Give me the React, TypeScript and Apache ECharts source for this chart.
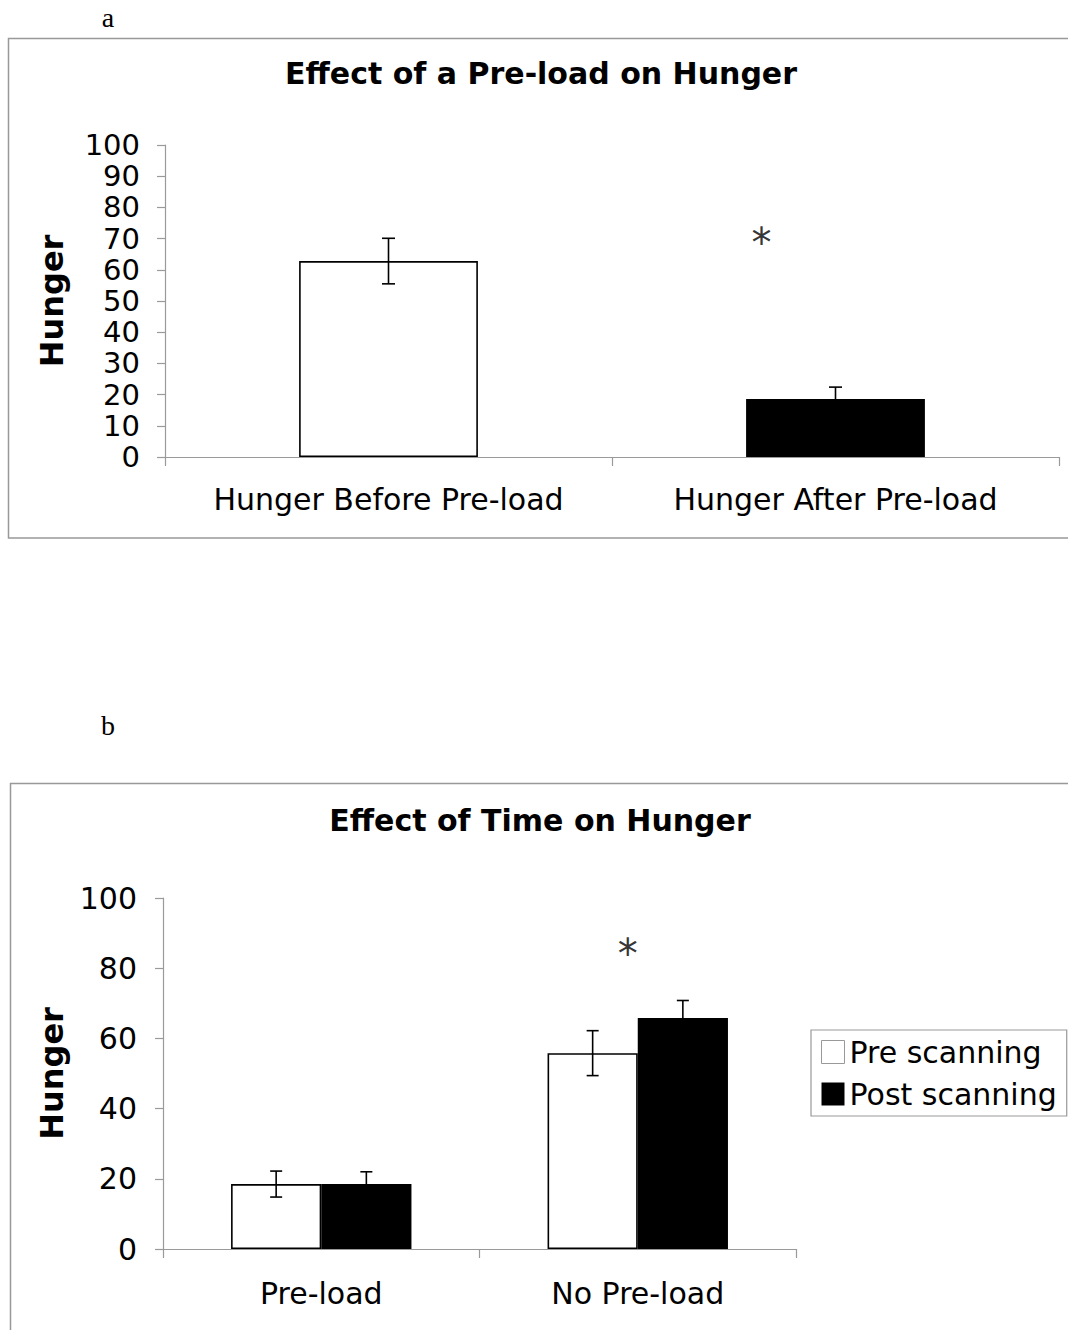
import React, { useEffect, useRef } from "react";
import * as echarts from "echarts";

// ---------- Panel a data ----------
const catsA = ["Hunger Before Pre-load", "Hunger After Pre-load"];
const valuesA = [62.8, 18.6];
const errorsA = [7.3, 3.8];
const fillA = ["#ffffff", "#000000"];
const ticksA = { min: 0, max: 100, interval: 10 };
const starA = [[1, 68.5]];

// ---------- Panel b data ----------
const catsB = ["Pre-load", "No Pre-load"];
const seriesNamesB = ["Pre scanning", "Post scanning"];
const preScan = [18.5, 55.8];
const preScanErr = [3.7, 6.4];
const postScan = [18.5, 65.8];
const postScanErr = [3.5, 5.0];
const ticksB = { min: 0, max: 100, interval: 20 };
const starB = [[1, 84]];

const FONT = "DejaVu Sans";
const AXIS_GREY = "#9a9a9a";

function errorBarSeries(
  xAxisIndex: number,
  yAxisIndex: number,
  values: number[],
  errs: number[],
  offsetFrac: number,
  cap: number
) {
  return {
    type: "custom",
    xAxisIndex,
    yAxisIndex,
    z: 10,
    silent: true,
    data: values.map((v, i) => [i, v, errs[i]]),
    renderItem: (params: any, api: any) => {
      const x = api.value(0);
      const y = api.value(1);
      const e = api.value(2);
      const bw = api.size([1, 0])[0];
      const hi = api.coord([x, y + e]);
      const lo = api.coord([x, y - e]);
      const cx = hi[0] + offsetFrac * bw;
      const style = { stroke: "#000", lineWidth: 1.6 };
      return {
        type: "group",
        children: [
          { type: "line", shape: { x1: cx, y1: hi[1], x2: cx, y2: lo[1] }, style },
          { type: "line", shape: { x1: cx - cap / 2, y1: hi[1], x2: cx + cap / 2, y2: hi[1] }, style },
          { type: "line", shape: { x1: cx - cap / 2, y1: lo[1], x2: cx + cap / 2, y2: lo[1] }, style },
        ],
      };
    },
  };
}

function yAxisCommon(
  t: { min: number; max: number; interval: number },
  gridIndex: number,
  margin: number,
  nameGap: number,
  fontSize: number,
  lineHeight: number
) {
  return {
    type: "value",
    gridIndex,
    min: t.min,
    max: t.max,
    interval: t.interval,
    name: "Hunger",
    nameLocation: "middle",
    nameGap,
    nameTextStyle: { fontFamily: FONT, fontWeight: "bold", fontSize: 32, color: "#000" },
    axisLine: { show: true, lineStyle: { color: AXIS_GREY, width: 1.2 } },
    axisTick: { show: true, length: 8, lineStyle: { color: AXIS_GREY, width: 1.2 } },
    splitLine: { show: false },
    axisLabel: { fontFamily: FONT, fontSize, lineHeight, color: "#000", margin },
  };
}

function xAxisCommon(cats: string[], gridIndex: number, margin: number) {
  return {
    type: "category",
    gridIndex,
    data: cats,
    axisLine: { show: true, lineStyle: { color: AXIS_GREY, width: 1.2 } },
    axisTick: { show: true, length: 9, alignWithLabel: false, lineStyle: { color: AXIS_GREY, width: 1.2 } },
    axisLabel: { fontFamily: FONT, fontSize: 30, color: "#000", margin, interval: 0 },
    splitLine: { show: false },
  };
}

export default function App() {
  const ref = useRef<HTMLDivElement>(null);
  useEffect(() => {
    if (!ref.current) return;
    const chart = echarts.init(ref.current, null, { renderer: "svg" });
    const option: any = {
      animation: false,
      backgroundColor: "#ffffff",
      textStyle: { fontFamily: FONT },
      title: [
        {
          text: "Effect of a Pre-load on Hunger",
          left: 541,
          top: 58,
          padding: 0,
          textAlign: "center",
          textStyle: { fontFamily: FONT, fontWeight: "bold", fontSize: 30, color: "#000" },
        },
        {
          text: "Effect of Time on Hunger",
          left: 540,
          top: 805,
          padding: 0,
          textAlign: "center",
          textStyle: { fontFamily: FONT, fontWeight: "bold", fontSize: 30, color: "#000" },
        },
      ],
      graphic: [
        {
          type: "rect",
          shape: { x: 8.5, y: 38.5, width: 1080, height: 499.5 },
          style: { fill: "none", stroke: "#999", lineWidth: 1.5 },
          silent: true,
          z: -10,
        },
        {
          type: "rect",
          shape: { x: 10.5, y: 783.5, width: 1080, height: 580 },
          style: { fill: "none", stroke: "#999", lineWidth: 1.5 },
          silent: true,
          z: -10,
        },
        {
          type: "text",
          x: 108,
          y: 17,
          style: { text: "a", font: "28px 'Liberation Serif', serif", fill: "#000", textAlign: "center", textVerticalAlign: "middle" },
        },
        {
          type: "text",
          x: 108,
          y: 725,
          style: { text: "b", font: "28px 'Liberation Serif', serif", fill: "#000", textAlign: "center", textVerticalAlign: "middle" },
        },
      ],
      legend: {
        show: true,
        data: [
          { name: seriesNamesB[0], itemStyle: { color: "#fff", borderColor: "#999", borderWidth: 1 } },
          { name: seriesNamesB[1], itemStyle: { color: "#000", borderColor: "#000", borderWidth: 0 } },
        ],
        orient: "vertical",
        left: 811,
        top: 1030,
        padding: [7, 10, 7, 10],
        itemGap: 12,
        itemWidth: 23,
        itemHeight: 23,
        icon: "rect",
        borderColor: "#999",
        borderWidth: 1.2,
        textStyle: { fontFamily: FONT, fontSize: 30, color: "#000" },
        selectedMode: false,
      },
      grid: [
        { left: 165, width: 894, top: 145, height: 312 },
        { left: 163, width: 633, top: 898, height: 351 },
      ],
      xAxis: [xAxisCommon(catsA, 0, 27), xAxisCommon(catsB, 1, 29)],
      yAxis: [
        yAxisCommon(ticksA, 0, 25, 97, 29, 26),
        yAxisCommon(ticksB, 1, 26, 95, 30, 30),
      ],
      series: [
        {
          type: "bar",
          name: "A",
          xAxisIndex: 0,
          yAxisIndex: 0,
          barWidth: "40%",
          data: valuesA.map((v, i) => ({
            value: v,
            itemStyle: { color: fillA[i], borderColor: "#000", borderWidth: 1.6 },
          })),
        },
        errorBarSeries(0, 0, valuesA, errorsA, 0, 13),
        {
          type: "scatter",
          xAxisIndex: 0,
          yAxisIndex: 0,
          symbolSize: 0,
          silent: true,
          data: starA,
          label: {
            show: true,
            formatter: "*",
            position: "inside",
            offset: [-74, 0],
            fontFamily: FONT,
            fontSize: 40,
            color: "#000",
          },
        },
        {
          type: "bar",
          name: seriesNamesB[0],
          xAxisIndex: 1,
          yAxisIndex: 1,
          barWidth: "28.5%",
          barGap: "0%",
          data: preScan,
          itemStyle: { color: "#fff", borderColor: "#000", borderWidth: 1.6 },
        },
        {
          type: "bar",
          name: seriesNamesB[1],
          xAxisIndex: 1,
          yAxisIndex: 1,
          barWidth: "28.5%",
          barGap: "0%",
          data: postScan,
          itemStyle: { color: "#000", borderColor: "#000", borderWidth: 1.6 },
        },
        errorBarSeries(1, 1, preScan, preScanErr, -0.1425, 12),
        errorBarSeries(1, 1, postScan, postScanErr, 0.1425, 12),
        {
          type: "scatter",
          xAxisIndex: 1,
          yAxisIndex: 1,
          symbolSize: 0,
          silent: true,
          data: starB,
          label: {
            show: true,
            formatter: "*",
            position: "inside",
            offset: [-10, 0],
            fontFamily: FONT,
            fontSize: 40,
            color: "#000",
          },
        },
      ],
    };
    chart.setOption(option);
    return () => chart.dispose();
  }, []);
  return (
    <div
      ref={ref}
      style={{ position: "absolute", left: 0, top: 0, width: 1068, height: 1330, background: "#fff" }}
    />
  );
}
